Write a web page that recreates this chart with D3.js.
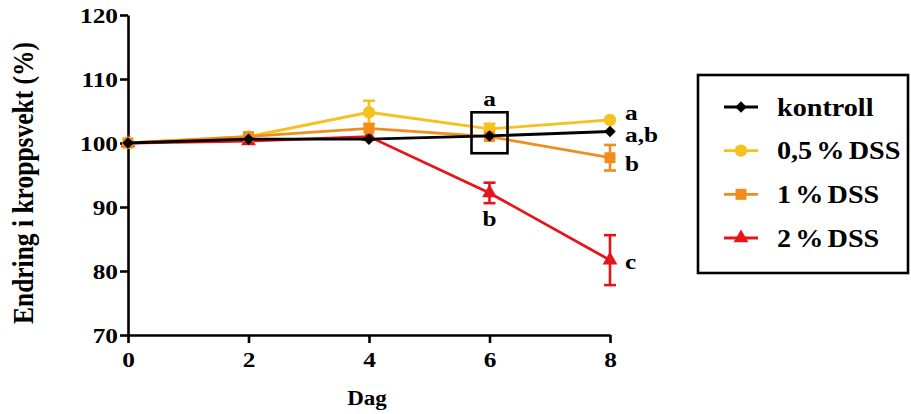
<!DOCTYPE html>
<html><head><meta charset="utf-8">
<script src="https://cdn.jsdelivr.net/npm/d3@7"></script>
<style>body{margin:0;background:#fff}svg{display:block}text{font-family:"Liberation Serif","Times New Roman",serif;font-weight:bold;fill:#000}</style>
</head><body><svg id="c" width="911" height="414"></svg>
<script>
const days = [0, 2, 4, 6, 8];
const xTicks = [0, 2, 4, 6, 8];
const yTicks = [70, 80, 90, 100, 110, 120];
const seriesNames = ["kontroll", "0,5 % DSS", "1 % DSS", "2 % DSS"];
const kontroll = [100, 100.6, 100.6, 101.1, 101.8];
const kontrollErr = [0, 0.2, 0.2, 0.2, 0.2];
const dss05 = [100, 101.0, 104.8, 102.2, 103.6];
const dss05Err = [0, 0.3, 1.8, 0.8, 0.3];
const dss1 = [100, 101.0, 102.3, 101.0, 97.7];
const dss1Err = [0, 0.3, 0.5, 0.3, 2.0];
const dss2 = [100, 100.3, 101.0, 92.2, 81.7];
const dss2Err = [0, 0.3, 0.3, 1.6, 3.9];
const letters = [
  {day: 6, y: 107.0, t: "a", side: 0},
  {day: 8, y: 104.8, t: "a", side: 1},
  {day: 8, y: 101.3, t: "a,b", side: 1},
  {day: 8, y: 96.8, t: "b", side: 1},
  {day: 6, y: 88.2, t: "b", side: 0},
  {day: 8, y: 81.5, t: "c", side: 1}
];

const SX = 1.15;
const svg = d3.select("#c");
const x = d3.scaleLinear().domain([0, 8]).range([128, 610]);
const y = d3.scaleLinear().domain([70, 120]).range([335, 15]);

function addText(px, py, str, size, anchor) {
  return svg.append("text").attr("transform", `translate(${px},${py}) scale(${SX},1)`)
    .attr("text-anchor", anchor || "start").attr("dy", "0.35em").style("font-size", size + "px").text(str);
}

const colors = {"kontroll": "#000000", "0,5 % DSS": "#F6C01D", "1 % DSS": "#F28C1C", "2 % DSS": "#E8141B"};
const shapes = {"kontroll": d3.symbolDiamond2, "0,5 % DSS": d3.symbolCircle, "1 % DSS": d3.symbolSquare, "2 % DSS": d3.symbolTriangle};
const sizes = {"kontroll": 85, "0,5 % DSS": 120, "1 % DSS": 120, "2 % DSS": 95};
const data = {"kontroll": [kontroll, kontrollErr], "0,5 % DSS": [dss05, dss05Err], "1 % DSS": [dss1, dss1Err], "2 % DSS": [dss2, dss2Err]};

// axes
const yAxis = d3.axisLeft(y).tickValues(yTicks).tickSize(8).tickSizeOuter(0).tickPadding(2);
const gy = svg.append("g").attr("transform", "translate(128,0)").call(yAxis);
const xAxis = d3.axisBottom(x).tickValues(xTicks).tickSize(8).tickSizeOuter(0).tickPadding(8);
const gx = svg.append("g").attr("transform", "translate(0,335)").call(xAxis);
[gx, gy].forEach(g => {
  g.attr("font-family", null).attr("font-size", null);
  g.select(".domain").attr("stroke", "#000").attr("stroke-width", 2.6);
  g.selectAll(".tick line").attr("stroke", "#000").attr("stroke-width", 2.6);
  g.selectAll(".tick text").attr("fill", "#000").style("font-size", "22px").each(function() {
    const t = d3.select(this);
    const tx = +t.attr("x") || 0, ty = +t.attr("y") || 0;
    t.attr("x", null).attr("y", null).attr("transform", `translate(${tx},${ty}) scale(${SX},1)`);
  });
});
gy.selectAll(".tick text").attr("dy", "0.34em");

svg.append("text").attr("transform", "translate(23,183) rotate(-90) scale(1,1.15)").attr("text-anchor", "middle").attr("dy", "0.35em").style("font-size", "25.5px").text("Endring i kroppsvekt (%)");
addText(x(4) - 2, 398, "Dag", 20, "middle");

const line = d3.line().x((d, i) => x(days[i])).y(d => y(d));
const order = ["2 % DSS", "0,5 % DSS", "1 % DSS", "kontroll"];
order.forEach(name => {
  const [vals, errs] = data[name];
  const c = colors[name];
  const g = svg.append("g");
  g.append("path").datum(vals).attr("d", line).attr("fill", "none").attr("stroke", c).attr("stroke-width", 2.8);
  days.forEach((d, i) => {
    if (errs[i] > 0.6) {
      const cx = x(d), y1 = y(vals[i] + errs[i]), y2 = y(vals[i] - errs[i]);
      g.append("line").attr("x1", cx).attr("x2", cx).attr("y1", y1).attr("y2", y2).attr("stroke", c).attr("stroke-width", 2.6);
      [y1, y2].forEach(yy => g.append("line").attr("x1", cx - 6).attr("x2", cx + 6).attr("y1", yy).attr("y2", yy).attr("stroke", c).attr("stroke-width", 2.6));
    }
    g.append("path").attr("d", d3.symbol().type(shapes[name]).size(sizes[name])()).attr("transform", `translate(${x(d)},${y(vals[i])})`).attr("fill", c);
  });
});

// box at day 6
svg.append("rect").attr("x", x(6) - 18).attr("y", y(104.8)).attr("width", 36).attr("height", y(98.4) - y(104.8)).attr("fill", "none").attr("stroke", "#000").attr("stroke-width", 2.6);

letters.forEach(l => {
  addText(l.side ? x(l.day) + 15 : x(l.day), y(l.y), l.t, 22, l.side ? "start" : "middle");
});

// legend
svg.append("rect").attr("x", 698).attr("y", 75).attr("width", 210).attr("height", 198).attr("fill", "none").attr("stroke", "#000").attr("stroke-width", 2.6);
const legY = d3.scalePoint().domain(seriesNames).range([107, 238]);
seriesNames.forEach(name => {
  const yy = legY(name), c = colors[name];
  svg.append("line").attr("x1", 724).attr("x2", 758).attr("y1", yy).attr("y2", yy).attr("stroke", c).attr("stroke-width", 2.8);
  svg.append("path").attr("d", d3.symbol().type(shapes[name]).size(sizes[name])()).attr("transform", `translate(741,${yy})`).attr("fill", c);
  addText(777, yy, name, 24.5).style("word-spacing", "-2.5px");
});
</script></body></html>
